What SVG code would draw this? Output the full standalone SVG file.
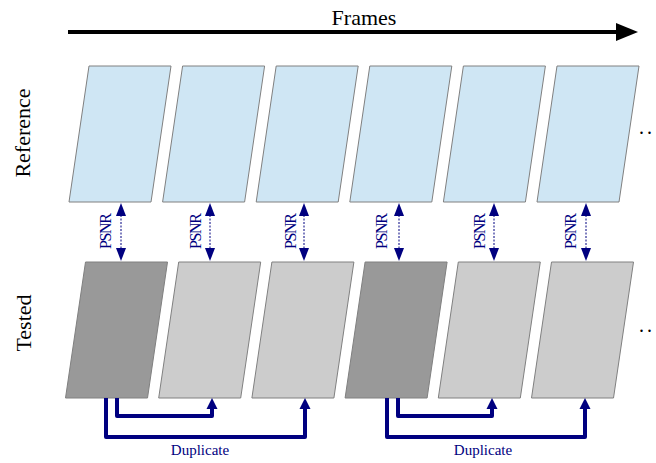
<svg xmlns="http://www.w3.org/2000/svg" width="656" height="463" viewBox="0 0 656 463">
<style>
.ref{fill:#cfe6f4;stroke:#808080;stroke-width:1}
.tl{fill:#cccccc;stroke:#808080;stroke-width:1}
.td{fill:#999999;stroke:#808080;stroke-width:1}
.lbl{font-family:"Liberation Serif","Times New Roman",serif;fill:#000}
.nv{font-family:"Liberation Serif","Times New Roman",serif;fill:#000080}
.dot{stroke:#000080;stroke-width:1;stroke-dasharray:2,1.5;fill:none}
.dup{stroke:#000080;stroke-width:4;fill:none;stroke-linejoin:round}
.head{fill:#000080}
</style>
<defs>
<polygon id="fr" points="20,0 102,0 82,136 0,136"/>
</defs>
<rect width="656" height="463" fill="#fff"/>
<g id="frames-axis">
<line x1="68" y1="32" x2="620" y2="32" stroke="#000" stroke-width="4"/>
<polygon points="616,23 638,32 616,41" fill="#000"/>
<text class="lbl" x="364" y="25" font-size="22" text-anchor="middle">Frames</text>
</g>
<g id="row-labels">
<text class="lbl" transform="translate(30,133) rotate(-90)" font-size="22" text-anchor="middle">Reference</text>
<text class="lbl" transform="translate(31,323) rotate(-90)" font-size="22" text-anchor="middle">Tested</text>
</g>
<g id="reference-frames">
<use href="#fr" class="ref" transform="translate(69,66)"/>
<use href="#fr" class="ref" transform="translate(162.6,66)"/>
<use href="#fr" class="ref" transform="translate(256.2,66)"/>
<use href="#fr" class="ref" transform="translate(349.8,66)"/>
<use href="#fr" class="ref" transform="translate(443.4,66)"/>
<use href="#fr" class="ref" transform="translate(537,66)"/>
<text class="lbl" x="639" y="134" font-size="20" letter-spacing="3">..</text>
</g>
<g id="tested-frames">
<use href="#fr" class="td" transform="translate(65.5,262)"/>
<use href="#fr" class="tl" transform="translate(158.7,262)"/>
<use href="#fr" class="tl" transform="translate(251.9,262)"/>
<use href="#fr" class="td" transform="translate(345.1,262)"/>
<use href="#fr" class="tl" transform="translate(438.3,262)"/>
<use href="#fr" class="tl" transform="translate(531.5,262)"/>
<text class="lbl" x="639" y="332" font-size="20" letter-spacing="3">..</text>
</g>
<g id="connectors">
<g id="psnr">
<line class="dot" x1="121" y1="215" x2="121" y2="249"/><polygon class="head" points="121,203 116,216 126,216"/><polygon class="head" points="121,261 116,248 126,248"/>
<line class="dot" x1="210" y1="215" x2="210" y2="249"/><polygon class="head" points="210,203 205,216 215,216"/><polygon class="head" points="210,261 205,248 215,248"/>
<line class="dot" x1="304" y1="215" x2="304" y2="249"/><polygon class="head" points="304,203 299,216 309,216"/><polygon class="head" points="304,261 299,248 309,248"/>
<line class="dot" x1="399" y1="215" x2="399" y2="249"/><polygon class="head" points="399,203 394,216 404,216"/><polygon class="head" points="399,261 394,248 404,248"/>
<line class="dot" x1="494" y1="215" x2="494" y2="249"/><polygon class="head" points="494,203 489,216 499,216"/><polygon class="head" points="494,261 489,248 499,248"/>
<line class="dot" x1="586" y1="215" x2="586" y2="249"/><polygon class="head" points="586,203 581,216 591,216"/><polygon class="head" points="586,261 581,248 591,248"/>
<text class="nv" transform="translate(111,231) rotate(-90)" font-size="16" text-anchor="middle" textLength="36">PSNR</text>
<text class="nv" transform="translate(201,231) rotate(-90)" font-size="16" text-anchor="middle" textLength="36">PSNR</text>
<text class="nv" transform="translate(296,231) rotate(-90)" font-size="16" text-anchor="middle" textLength="36">PSNR</text>
<text class="nv" transform="translate(387,231) rotate(-90)" font-size="16" text-anchor="middle" textLength="36">PSNR</text>
<text class="nv" transform="translate(485,231) rotate(-90)" font-size="16" text-anchor="middle" textLength="36">PSNR</text>
<text class="nv" transform="translate(576,231) rotate(-90)" font-size="16" text-anchor="middle" textLength="36">PSNR</text>
</g>
<g id="duplicate-1">
<polyline class="dup" points="117,398 117,416 212,416 212,407"/>
<polygon class="head" points="212,398 206.5,409 217.5,409"/>
<polyline class="dup" points="106,398 106,437 305,437 305,407"/>
<polygon class="head" points="305,398 299.5,409 310.5,409"/>
<text class="nv" x="200" y="455" font-size="15" text-anchor="middle">Duplicate</text>
</g>
<g id="duplicate-2">
<polyline class="dup" points="398,398 398,416 492,416 492,407"/>
<polygon class="head" points="492,398 486.5,409 497.5,409"/>
<polyline class="dup" points="387,398 387,437 585,437 585,407"/>
<polygon class="head" points="585,398 579.5,409 590.5,409"/>
<text class="nv" x="483" y="455" font-size="15" text-anchor="middle">Duplicate</text>
</g>
</g>
</svg>
